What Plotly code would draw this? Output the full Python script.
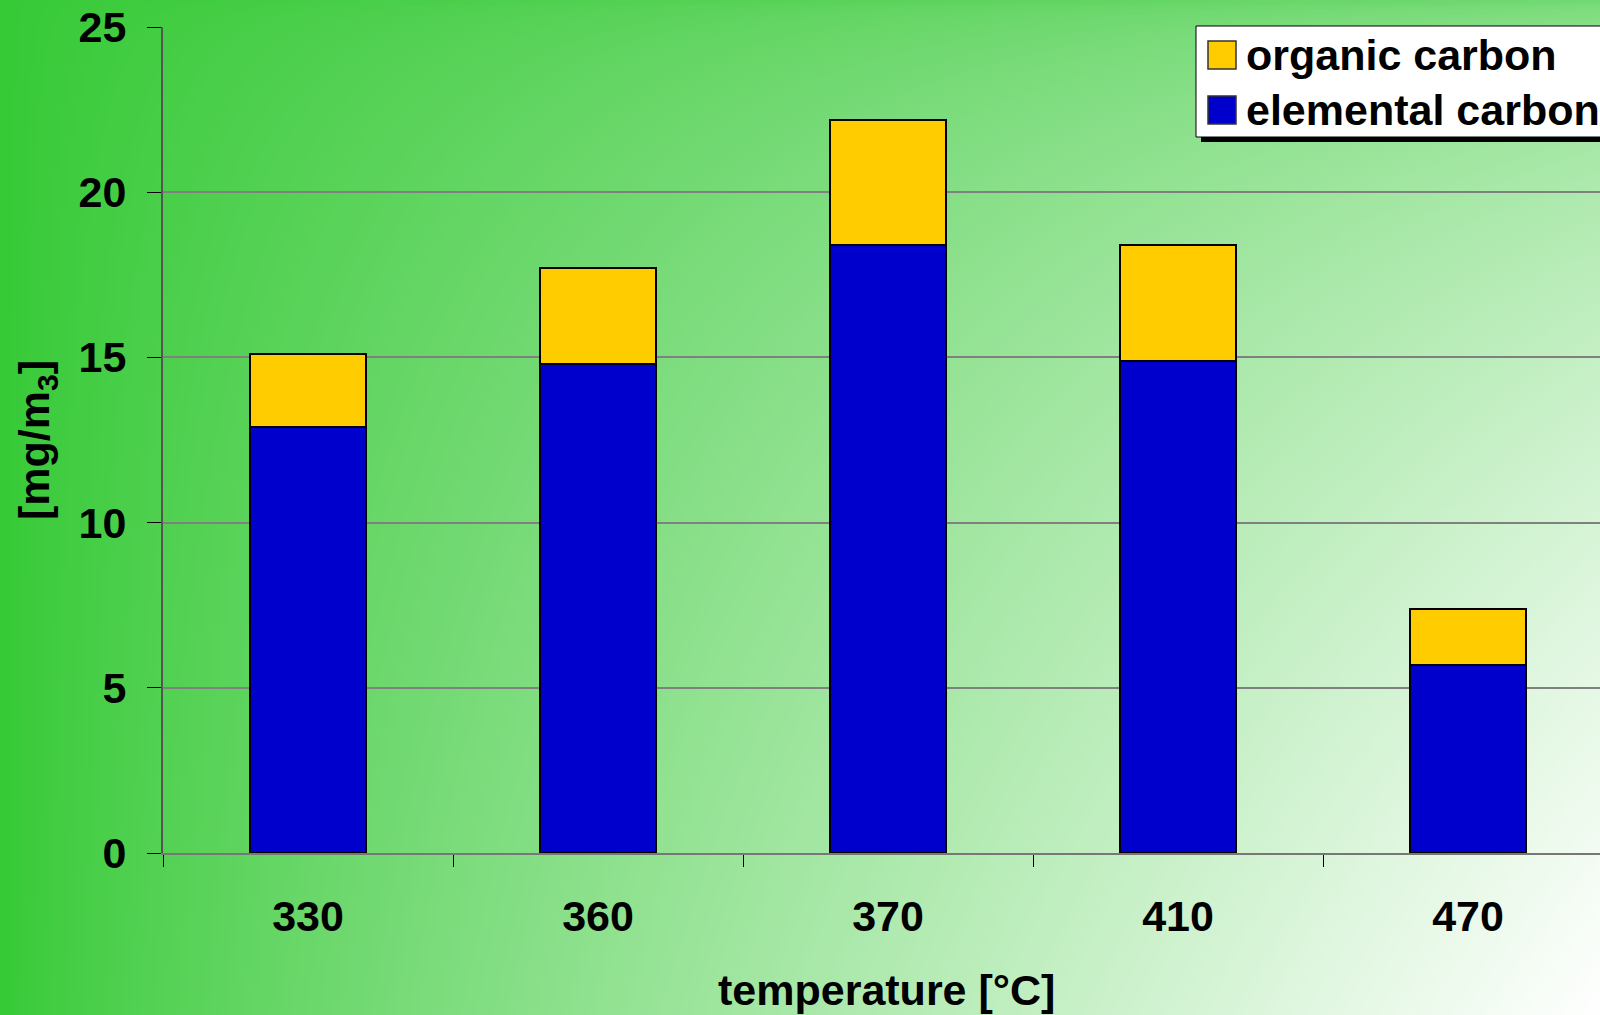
import base64
import struct
import zlib

import numpy as np
import plotly.graph_objects as go

# ---- data -------------------------------------------------------------
temperatures = ["330", "360", "370", "410", "470"]
elemental_carbon = [12.9, 14.8, 18.4, 14.9, 5.7]
organic_carbon = [2.2, 2.9, 3.8, 3.5, 1.7]
series_names = ["organic carbon", "elemental carbon"]
y_ticks = [0, 5, 10, 15, 20, 25]

# ---- page geometry (pixels) -------------------------------------------
W, H = 1600, 1015
PLOT_L, PLOT_T, PLOT_B = 163, 27, 853
CAT_PX = 290  # width of one category slot
FS = 43       # font size used for every text


def px_x(x):
    return x / W


def px_y(y):
    return 1 - y / H


# ---- green slide background: fades to white toward the bottom right ---
def gradient_png(w=400, h=254):
    xs = np.linspace(0, 1, w)
    ys = np.linspace(0, 1, h)
    gx, gy = np.meshgrid(xs, ys)
    s = gx ** 0.8 * (0.3 + 0.7 * np.sqrt(gy))
    s = np.clip(s, 0, 1)
    base = np.array([54, 202, 54], dtype=float)
    white = np.array([255, 255, 255], dtype=float)
    img = base[None, None, :] * (1 - s[..., None]) + white[None, None, :] * s[..., None]
    img = np.clip(img, 0, 255).astype(np.uint8)
    raw = b"".join(b"\x00" + row.tobytes() for row in img)

    def chunk(tag, data):
        c = struct.pack(">I", len(data)) + tag + data
        return c + struct.pack(">I", zlib.crc32(tag + data) & 0xFFFFFFFF)

    png = b"\x89PNG\r\n\x1a\n"
    png += chunk(b"IHDR", struct.pack(">IIBBBBB", w, h, 8, 2, 0, 0, 0))
    png += chunk(b"IDAT", zlib.compress(raw, 9))
    png += chunk(b"IEND", b"")
    return "data:image/png;base64," + base64.b64encode(png).decode()


FONT = "Liberation Sans, Arial, sans-serif"
OC_COLOR = "#FFCC00"
EC_COLOR = "#0000CC"
bold = dict(family=FONT, size=FS, color="black", weight="bold")

fig = go.Figure()
fig.add_trace(go.Bar(
    x=temperatures, y=elemental_carbon, name=series_names[1],
    marker=dict(color=EC_COLOR, line=dict(color="black", width=2)),
    showlegend=False,
))
fig.add_trace(go.Bar(
    x=temperatures, y=organic_carbon, name=series_names[0],
    marker=dict(color=OC_COLOR, line=dict(color="black", width=2)),
    showlegend=False,
))

x_end = (W - PLOT_L) / CAT_PX - 0.5

fig.update_layout(
    width=W, height=H,
    margin=dict(l=0, r=0, t=0, b=0, autoexpand=False),
    paper_bgcolor="rgba(0,0,0,0)",
    plot_bgcolor="white",
    barmode="stack",
    bargap=0.597,
    font=bold,
    xaxis=dict(
        domain=[px_x(PLOT_L), 1],
        range=[-0.5, x_end],
        type="category",
        tickson="boundaries",
        ticks="outside", ticklen=12, tickwidth=1, tickcolor="black",
        showline=True, linecolor="#777777", linewidth=2,
        showgrid=False,
        tickfont=bold,
        ticklabelstandoff=24,
    ),
    yaxis=dict(
        domain=[px_y(PLOT_B), px_y(PLOT_T)],
        range=[0, 25],
        tickvals=y_ticks,
        ticks="outside", ticklen=14, tickwidth=1, tickcolor="black",
        showline=True, linecolor="#555555", linewidth=2,
        showgrid=True, gridcolor="#808080", gridwidth=1.5,
        zeroline=False,
        tickfont=bold,
        ticklabelstandoff=12,
    ),
)

fig.add_layout_image(dict(
    source=gradient_png(), xref="paper", yref="paper",
    x=0, y=1, sizex=1, sizey=1, xanchor="left", yanchor="top",
    sizing="stretch", layer="below",
))

# axis titles
fig.add_annotation(
    text="temperature [°C]", xref="paper", yref="paper",
    x=px_x(886), y=px_y(990), xanchor="center", yanchor="middle",
    showarrow=False, font=bold,
)
fig.add_annotation(
    text="[mg/m<sub>3</sub>]", xref="paper", yref="paper",
    x=px_x(37), y=px_y(440), xanchor="center", yanchor="middle",
    textangle=-90, showarrow=False, font=bold,
)

# legend box with drop shadow
LEG_L, LEG_T, LEG_B = 1196, 26, 137
fig.add_shape(type="rect", xref="paper", yref="paper",
              x0=px_x(LEG_L + 5), x1=px_x(W + 20), y0=px_y(LEG_B + 5), y1=px_y(LEG_T + 5),
              fillcolor="black", line=dict(width=0), layer="above")
fig.add_shape(type="rect", xref="paper", yref="paper",
              x0=px_x(LEG_L), x1=px_x(W + 10), y0=px_y(LEG_B), y1=px_y(LEG_T),
              fillcolor="white", line=dict(color="black", width=1), layer="above")

legend_rows = [(series_names[0], OC_COLOR, 55), (series_names[1], EC_COLOR, 110)]
for name, color, cy in legend_rows:
    fig.add_shape(type="rect", xref="paper", yref="paper",
                  x0=px_x(1208), x1=px_x(1236), y0=px_y(cy + 14), y1=px_y(cy - 14),
                  fillcolor=color, line=dict(color="#333333", width=1.5), layer="above")
    fig.add_annotation(
        text=name, xref="paper", yref="paper",
        x=px_x(1244), y=px_y(cy), xanchor="left", yanchor="middle",
        showarrow=False, font=bold,
    )

fig.write_html("out.html")
